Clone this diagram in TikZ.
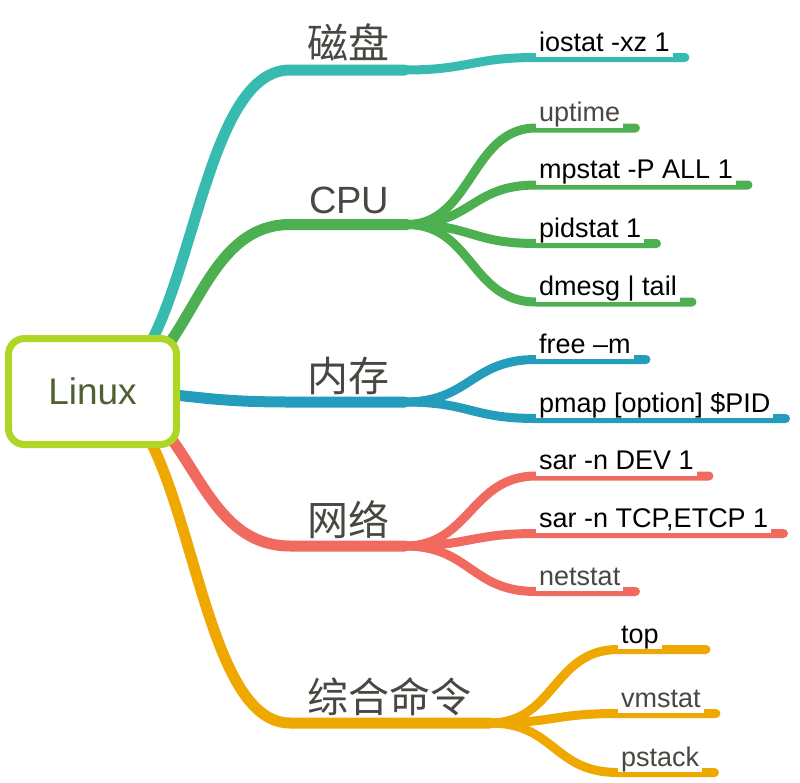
\documentclass[tikz,border=0pt]{standalone}
\usepackage{fontspec}
\setmainfont{Liberation Sans}
\newfontfamily\cjkfont{Noto Sans CJK SC}
\usetikzlibrary{calc,backgrounds}
\definecolor{mapteal}{RGB}{55,187,176}
\definecolor{mapgreen}{RGB}{76,176,80}
\definecolor{mapblue}{RGB}{36,157,188}
\definecolor{mapred}{RGB}{240,106,96}
\definecolor{maporange}{RGB}{238,168,0}
\definecolor{maplime}{RGB}{174,214,37}
\definecolor{mapolive}{RGB}{79,97,50}
\definecolor{mapgray}{RGB}{74,71,67}
\newcommand{\cjk}[1]{{\cjkfont\fontsize{41}{44}\selectfont #1}}

\begin{document}
\begin{tikzpicture}[x=1pt,y=-1pt]
    % Define styles
    \tikzstyle{root} = [draw=maplime, line width=7pt, fill=white, rounded corners=16pt, minimum width=168pt, minimum height=106pt, text=mapolive, font=\fontsize{37}{40}\selectfont]
    \tikzstyle{topic} = [anchor=base west, inner sep=0pt, text=mapgray, font=\fontsize{38}{40}\selectfont]
    \tikzstyle{leaf} = [anchor=south west, fill=white, inner xsep=3pt, inner ysep=0.5pt, text depth=5.5pt, font=\fontsize{27}{30}\selectfont]
    \tikzstyle{branch} = [line width=11pt, line cap=round, line join=round]
    \tikzstyle{twig} = [line width=9pt, line cap=round, line join=round]

    \useasboundingbox (0,0) rectangle (800,782);

    % Root and topics
    \node (root) [root] at (92.5,391.5) {Linux};
    \node (disk) [topic] at (307,58.5) {\cjk{磁盘}};
    \node (cpu) [topic] at (309,213) {CPU};
    \node (mem) [topic] at (307,391) {\cjk{内存}};
    \node (net) [topic] at (307,535) {\cjk{网络}};
    \node (misc) [topic] at (307,712) {\cjk{综合命令}};

    % Bends and forks of the branches
    \coordinate (disk-a) at (290,70);     \coordinate (disk-b) at (405,70);
    \coordinate (cpu-a) at (290,224.5);   \coordinate (cpu-b) at (407,224.5);
    \coordinate (mem-a) at (290,402);     \coordinate (mem-b) at (405,402);
    \coordinate (net-a) at (290,546);     \coordinate (net-b) at (405,546);
    \coordinate (misc-a) at (290,723);    \coordinate (misc-b) at (490,723);

    % Commands
    \node (iostat) [leaf] at (536,57.5) {iostat -xz 1};
    \node (uptime) [leaf, text=mapgray] at (536,128) {uptime};
    \node (mpstat) [leaf] at (536,185) {mpstat -P ALL 1};
    \node (pidstat) [leaf] at (536,243.5) {pidstat 1};
    \node (dmesg) [leaf] at (536,302) {dmesg | tail};
    \node (free) [leaf] at (536,359.5) {free –m};
    \node (pmap) [leaf] at (536,418.5) {pmap [option] \$PID};
    \node (sardev) [leaf] at (536,476) {sar -n DEV 1};
    \node (sartcp) [leaf] at (536,533.5) {sar -n TCP,ETCP 1};
    \node (netstat) [leaf, text=mapgray] at (536,591.5) {netstat};
    \node (top) [leaf] at (618,649.5) {top};
    \node (vmstat) [leaf, text=mapgray] at (618,713.5) {vmstat};
    \node (pstack) [leaf, text=mapgray] at (618,772.5) {pstack};

    % Draw branches
    \begin{scope}[on background layer]
    \draw [branch, mapteal] (root.center) .. controls +(100,0) and +(-100,0) .. (disk-a) -- (disk-b);
    \draw [branch, mapgreen] (root.center) .. controls +(100,0) and +(-100,0) .. (cpu-a) -- (cpu-b);
    \draw [branch, mapblue] (root.center) .. controls +(100,0) and +(-100,0) .. (mem-a) -- (mem-b);
    \draw [branch, mapred] (root.center) .. controls +(100,0) and +(-100,0) .. (net-a) -- (net-b);
    \draw [branch, maporange] (root.center) .. controls +(100,0) and +(-100,0) .. (misc-a) -- (misc-b);

    \draw [twig, mapteal] (disk-b) .. controls +(65,0) and +(-65,0) .. (iostat.south west) -- ($(iostat.south east)+(12,0)$);
    \draw [twig, mapgreen] (cpu-b) .. controls +(65,0) and +(-65,0) .. (uptime.south west) -- ($(uptime.south east)+(12,0)$);
    \draw [twig, mapgreen] (cpu-b) .. controls +(65,0) and +(-65,0) .. (mpstat.south west) -- ($(mpstat.south east)+(12,0)$);
    \draw [twig, mapgreen] (cpu-b) .. controls +(65,0) and +(-65,0) .. (pidstat.south west) -- ($(pidstat.south east)+(12,0)$);
    \draw [twig, mapgreen] (cpu-b) .. controls +(65,0) and +(-65,0) .. (dmesg.south west) -- ($(dmesg.south east)+(12,0)$);
    \draw [twig, mapblue] (mem-b) .. controls +(65,0) and +(-65,0) .. (free.south west) -- ($(free.south east)+(12,0)$);
    \draw [twig, mapblue] (mem-b) .. controls +(65,0) and +(-65,0) .. (pmap.south west) -- ($(pmap.south east)+(12,0)$);
    \draw [twig, mapred] (net-b) .. controls +(65,0) and +(-65,0) .. (sardev.south west) -- ($(sardev.south east)+(12,0)$);
    \draw [twig, mapred] (net-b) .. controls +(65,0) and +(-65,0) .. (sartcp.south west) -- ($(sartcp.south east)+(12,0)$);
    \draw [twig, mapred] (net-b) .. controls +(65,0) and +(-65,0) .. (netstat.south west) -- ($(netstat.south east)+(12,0)$);
    \draw [twig, maporange] (misc-b) .. controls +(65,0) and +(-65,0) .. (top.south west) -- ($(top.south east)+(44,0)$);
    \draw [twig, maporange] (misc-b) .. controls +(65,0) and +(-65,0) .. (vmstat.south west) -- ($(vmstat.south east)+(12,0)$);
    \draw [twig, maporange] (misc-b) .. controls +(65,0) and +(-65,0) .. (pstack.south west) -- ($(pstack.south east)+(12,0)$);
    \end{scope}
\end{tikzpicture}
\end{document}
